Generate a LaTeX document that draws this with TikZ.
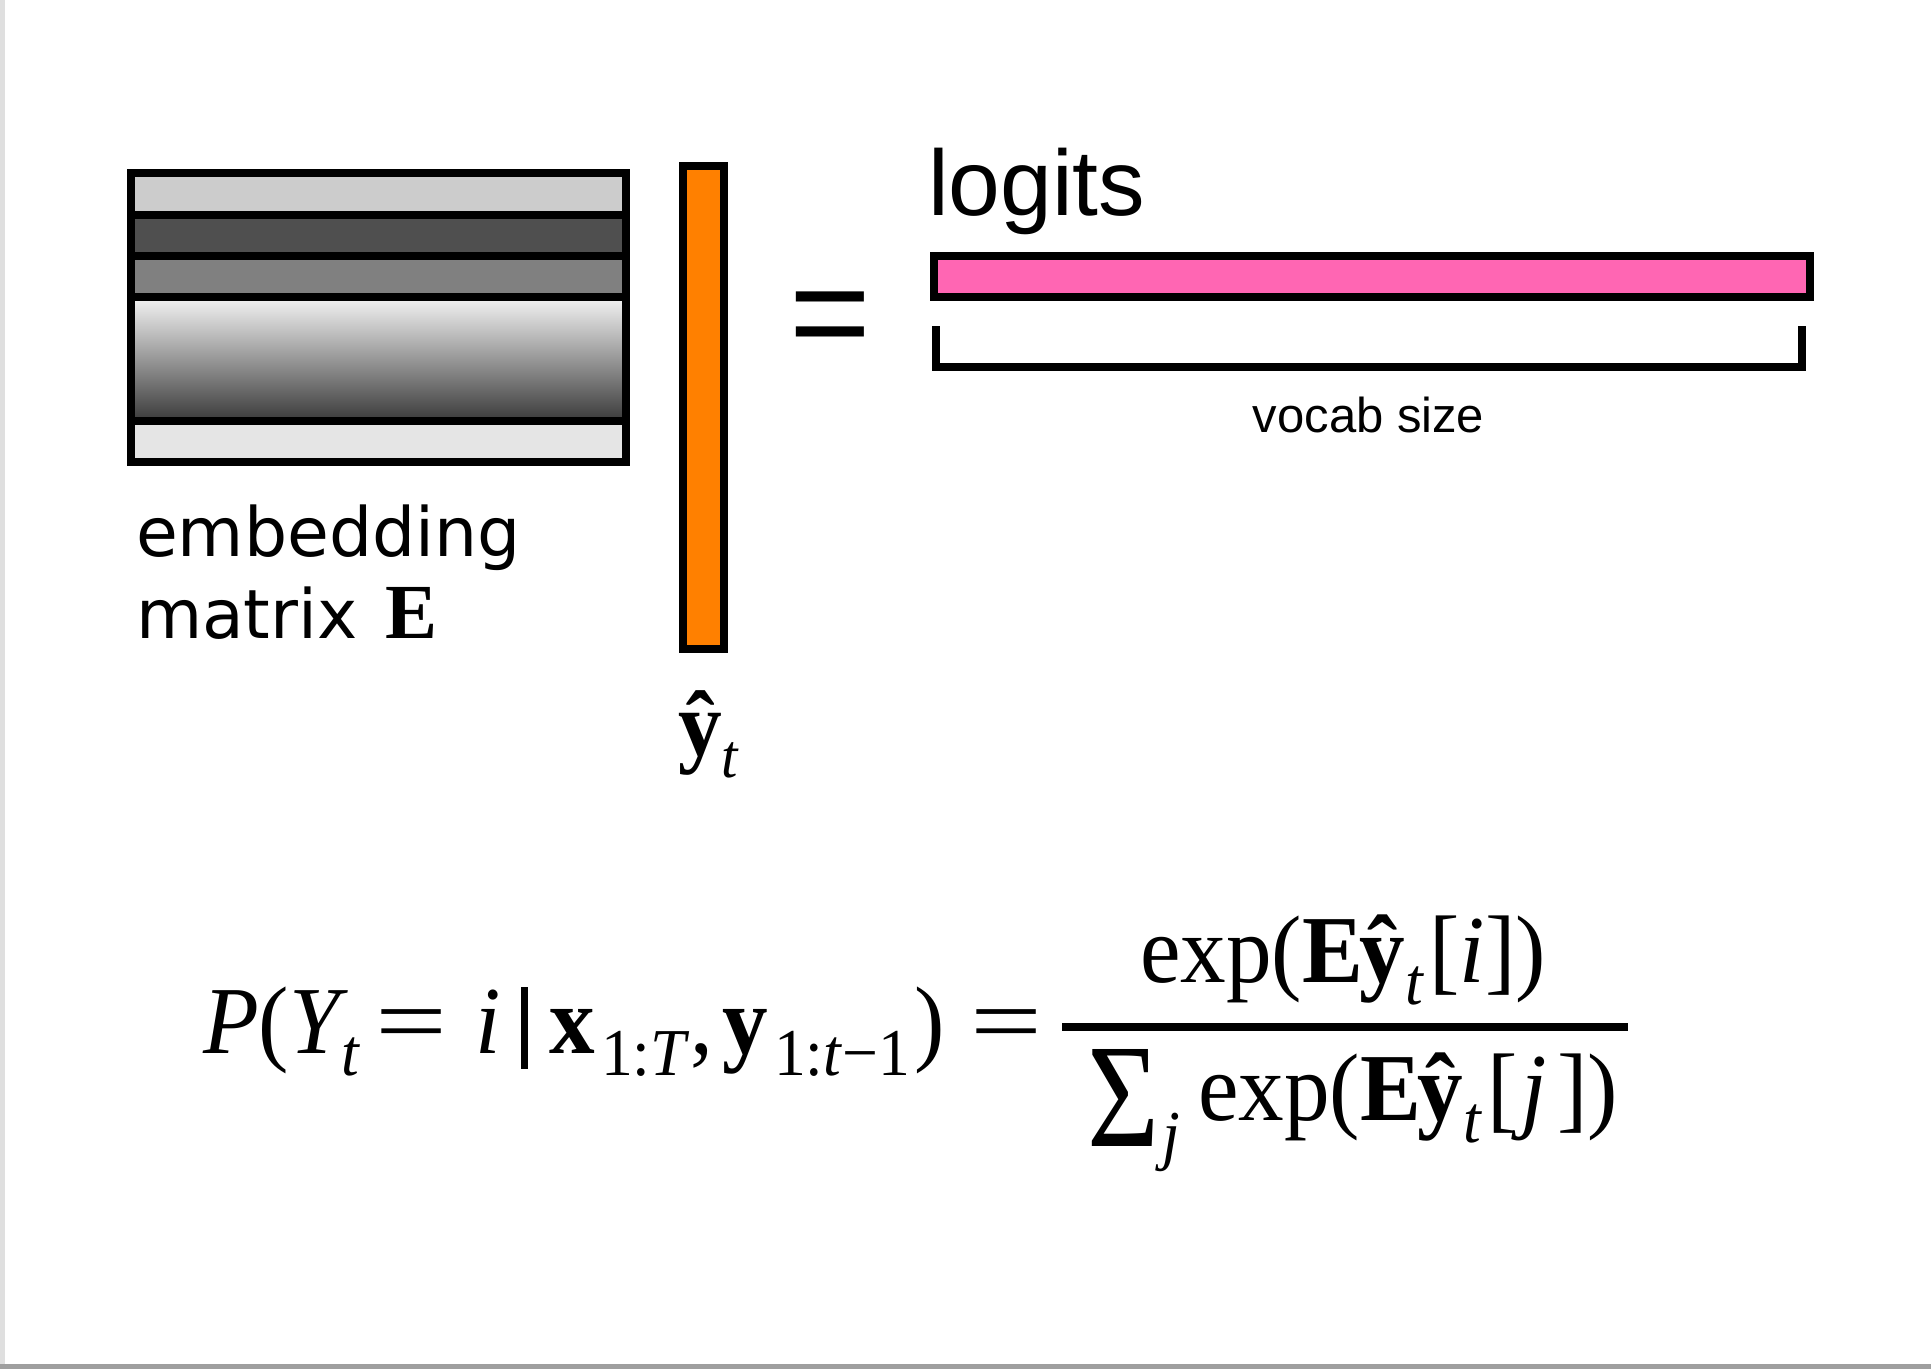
\documentclass[tikz,border=0pt]{standalone}
\usepackage{fontspec}
\usepackage{graphicx}
\newfontfamily\arialf{Liberation Sans}
\newfontfamily\dejaf{DejaVu Sans}
\newfontfamily\timesf[FakeStretch=0.95]{Liberation Serif}
\newfontfamily\timesn{Liberation Serif}
\definecolor{orangebar}{HTML}{FF8000}
\definecolor{pinkbar}{HTML}{FF66B3}
\definecolor{stripA}{HTML}{CCCCCC}
\definecolor{stripB}{HTML}{4F4F4F}
\definecolor{stripC}{HTML}{808080}
\definecolor{stripE}{HTML}{E5E5E5}
\definecolor{gradtop}{HTML}{F4F4F4}
\definecolor{gradbot}{HTML}{3A3A3A}
\newcommand\sizeA{\fontsize{96}{110}\selectfont}
\newcommand\sizeB{\fontsize{67}{75}\selectfont}
\newcommand\lowsub[1]{\raisebox{-22pt}{\sizeB #1}}
\newcommand\expterm[1]{exp(\textbf{E}\kern-3pt\textbf{ŷ}\lowsub{\textit{t}}\kern5pt[#1])}
\tikzset{
  thickline/.style={draw=black, line width=8pt},
  lbl/.style={inner sep=0pt, outer sep=0pt, anchor=base west},
  eqtext/.style={lbl, font=\timesf\sizeA},
  eqsub/.style={lbl, font=\timesf\sizeB},
}
\begin{document}
\begin{tikzpicture}[x=1pt,y=-1pt]
\useasboundingbox (0,0) rectangle (1931,1369);
\fill[white] (0,0) rectangle (1931,1369);
\fill[gray!25] (0,0) rectangle (5,1369);
\fill[gray!75] (0,1364) rectangle (1931,1369);

% embedding matrix
\fill[stripA] (131,173) rectangle (626,214.5);
\fill[stripB] (131,214.5) rectangle (626,256);
\fill[stripC] (131,256) rectangle (626,297);
\shade[top color=gradtop, bottom color=gradbot] (131,297) rectangle (626,421);
\fill[stripE] (131,421) rectangle (626,462);
\draw[thickline] (131,173) rectangle (626,214.5);
\draw[thickline] (131,214.5) rectangle (626,256);
\draw[thickline] (131,256) rectangle (626,297);
\draw[thickline] (131,297) rectangle (626,421);
\draw[thickline] (131,421) rectangle (626,462);

% output vector
\filldraw[thickline, fill=orangebar] (683,166) rectangle (724,649);

% logits bar and bracket
\filldraw[thickline, fill=pinkbar] (934,255.7) rectangle (1810,297);
\coordinate (brA) at (936,326);
\coordinate (brB) at (1802,326);
\draw[thickline] (brA) -- (936,367) -- (1802,367) -- (brB);

% labels
\node[lbl, font=\arialf\fontsize{93}{100}\selectfont] (logits) at (928,215) {logits};
\node[inner sep=0pt, anchor=base, font=\arialf\fontsize{49}{60}\selectfont] (vocab) at (1368.5,432) {vocab size};
\node[inner sep=0pt, anchor=base, font=\arialf\fontsize{140}{150}\selectfont] (eqsign) at (830.5,360) {=};
\node[lbl, font=\dejaf\fontsize{68}{80}\selectfont] (emb) at (136,556) {embedding};
\node[lbl, font=\dejaf\fontsize{68}{80}\selectfont] (mat) at (136,638) {matrix\hspace{28pt}{\timesn\bfseries\fontsize{78}{80}\selectfont E}};
\node[lbl, font=\timesf\fontsize{92}{100}\selectfont] (yhat) at (678,755) {\textbf{ŷ}\raisebox{-22pt}{\fontsize{62}{66}\selectfont\textit{t}}};

% equation, left side
\node[eqtext] (p1) at (203,1053) {\textit{P}(\textit{Y}};
\node[eqsub] (p2) at (341,1075) {\textit{t}};
\node[inner sep=0pt, anchor=base, font=\timesf\sizeA] (p3) at (411,1053) {\scalebox{1.4}[1]{=}};
\node[eqtext] (p4) at (475,1053) {\textit{i}};
\node[fill=black, inner sep=0pt, minimum width=7pt, minimum height=82pt, anchor=north west] (cond) at (521,987) {};
\node[eqtext] (p5) at (549,1053) {\textbf{x}};
\node[eqsub] (p6) at (601,1075) {1:\textit{T}};
\node[eqtext] (p7) at (690,1053) {,};
\node[eqtext] (p8) at (722,1053) {\textbf{y}};
\node[eqsub] (p9) at (774,1075) {1:\textit{t}−1};
\node[eqtext] (p10) at (914,1053) {)};
\node[inner sep=0pt, anchor=base, font=\timesf\sizeA] (p11) at (1006,1053) {\scalebox{1.4}[1]{=}};

% fraction
\node[eqtext] (num) at (1140,982) {\expterm{\textit{i}}};
\coordinate (fracL) at (1062,1027);
\coordinate (fracR) at (1628,1027);
\draw[line width=8pt] (fracL) -- (fracR);
\node[inner sep=0pt, outer sep=0pt, anchor=north west] (sigma) at (1087,1049) {\resizebox*{72pt}{97pt}{\timesn Σ}};
\node[eqsub] (jsub) at (1162,1157) {\textit{j}};
\node[eqtext] (den) at (1198,1120) {\expterm{\kern4pt\textit{j}\kern10pt}};
\end{tikzpicture}
\end{document}
